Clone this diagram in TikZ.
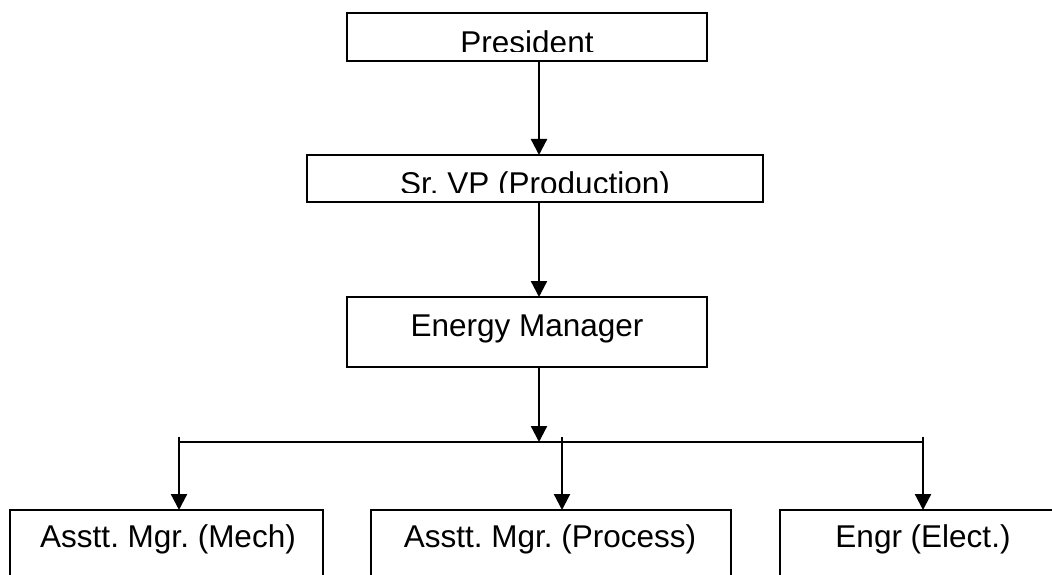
\documentclass[tikz,border=0pt]{standalone}
\usepackage{fontspec}
\setmainfont{Liberation Sans}
\usetikzlibrary{arrows.meta}
\frenchspacing
\begin{document}
\begin{tikzpicture}[x=1pt,y=-1pt,
  box/.style={draw, line width=2.3pt, rectangle, inner sep=0pt, outer sep=0pt},
  lbl/.style={font=\fontsize{31.5}{36}\selectfont, inner sep=0pt, anchor=base},
  arr/.style={line width=2.3pt, -{Triangle[width=16pt,length=16pt]}},
  ln/.style={line width=2.3pt}]
\useasboundingbox (0,0) rectangle (1052,575);
\clip (0,0) rectangle (1052,575);
\fill[white] (0,0) rectangle (1052,575);
% boxes
\node[box, minimum width=360pt, minimum height=48pt] (pres) at (527,37) {};
\node[box, minimum width=456pt, minimum height=47pt] (vp) at (535,178.5) {};
\node[box, minimum width=360pt, minimum height=70pt] (em) at (527,332) {};
\node[box, minimum width=313pt, minimum height=90pt] (b1) at (166.5,555) {};
\node[box, minimum width=360pt, minimum height=90pt] (b2) at (551,555) {};
\node[box, minimum width=286pt, minimum height=90pt] (b3) at (923,555) {};
% texts
\begin{scope}
\clip (347,13) rectangle (707,52);
\node[lbl] (prest) at (527,53.5) {President};
\end{scope}
\begin{scope}
\clip (307,155) rectangle (763,192);
\node[lbl] (vpt) at (535,194.5) {Sr. VP (Production)};
\end{scope}
\node[lbl] (emt) at (527,336) {Energy Manager};
\node[lbl] (b1t) at (168,547) {Asstt. Mgr. (Mech)};
\node[lbl] (b2t) at (550,547) {Asstt. Mgr. (Process)};
\node[lbl] (b3t) at (923,547) {Engr (Elect.)};
% connectors
\coordinate (cx) at (539,0);
\coordinate (j) at (539,442);
\draw[arr] (pres.south -| cx) -- (vp.north -| cx);
\draw[arr] (vp.south -| cx) -- (em.north -| cx);
\draw[arr] (em.south -| cx) -- (j);
\coordinate (hl) at (179,442);
\coordinate (hr) at (923,442);
\draw[ln] (hl) -- (hr);
\coordinate (d1) at (179,437);
\coordinate (d2) at (562,437);
\coordinate (d3) at (923,437);
\draw[arr] (d1) -- (d1 |- b1.north);
\draw[arr] (d2) -- (d2 |- b2.north);
\draw[arr] (d3) -- (d3 |- b3.north);
\end{tikzpicture}
\end{document}
